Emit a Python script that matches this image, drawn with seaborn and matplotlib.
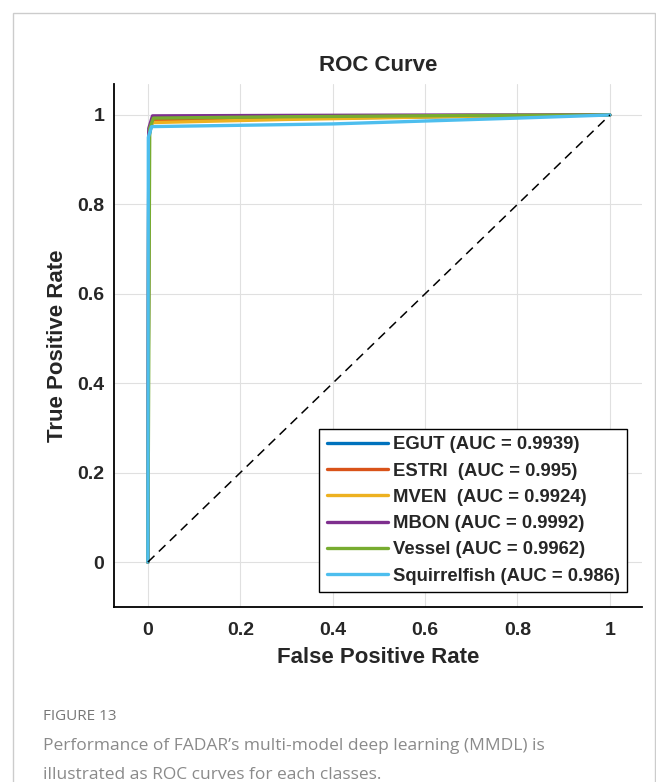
import matplotlib
matplotlib.use('Agg')
import matplotlib.pyplot as plt
from matplotlib.patches import Rectangle
import seaborn as sns

# ROC curves
classes = ['EGUT', 'ESTRI', 'MVEN', 'MBON', 'Vessel', 'Squirrelfish']
auc_labels = ['EGUT (AUC = 0.9939)', 'ESTRI  (AUC = 0.995)', 'MVEN  (AUC = 0.9924)',
              'MBON (AUC = 0.9992)', 'Vessel (AUC = 0.9962)', 'Squirrelfish (AUC = 0.986)']
colors = ['#0072BD', '#D95319', '#EDB120', '#7E2F8E', '#77AC30', '#4DBEEE']

fpr_egut = [0, 0.002, 0.01, 0.3, 0.7, 1]
tpr_egut = [0, 0.95, 0.988, 0.992, 0.997, 1]
fpr_estri = [0, 0.002, 0.01, 0.3, 0.7, 1]
tpr_estri = [0, 0.96, 0.988, 0.993, 0.998, 1]
fpr_mven = [0, 0.002, 0.01, 0.3, 0.7, 1]
tpr_mven = [0, 0.96, 0.983, 0.99, 0.997, 1]
fpr_mbon = [0, 0.002, 0.01, 0.3, 0.7, 1]
tpr_mbon = [0, 0.97, 0.998, 0.999, 1, 1]
fpr_vessel = [0, 0.004, 0.012, 0.3, 0.7, 1]
tpr_vessel = [0, 0.97, 0.993, 0.996, 0.999, 1]
fpr_squirrel = [0, 0.001, 0.008, 0.4, 0.8, 1]
tpr_squirrel = [0, 0.95, 0.974, 0.98, 0.993, 1]

fprs = [fpr_egut, fpr_estri, fpr_mven, fpr_mbon, fpr_vessel, fpr_squirrel]
tprs = [tpr_egut, tpr_estri, tpr_mven, tpr_mbon, tpr_vessel, tpr_squirrel]

ticks = [0, 0.2, 0.4, 0.6, 0.8, 1]
tick_labels = ['0', '0.2', '0.4', '0.6', '0.8', '1']

sns.set_style('whitegrid', {'grid.color': '#e0e0e0', 'axes.edgecolor': 'black'})
plt.rcParams['font.family'] = ['Liberation Sans', 'DejaVu Sans']
plt.rcParams['font.weight'] = 'bold'

fig = plt.figure(figsize=(6.56, 7.82), dpi=100)
ax = fig.add_axes([0.174, 0.224, 0.805, 0.669])

for fx, ty, c, lab in zip(fprs, tprs, colors, auc_labels):
    sns.lineplot(x=fx, y=ty, color=c, linewidth=2.4, label=lab, ax=ax,
                 sort=False, estimator=None)

ax.plot([0, 1], [0, 1], color='black', linestyle=(0, (6, 4)), linewidth=1.1)

ax.set_xlim(-0.073, 1.07)
ax.set_ylim(-0.1, 1.07)
ax.set_xticks(ticks)
ax.set_xticklabels(tick_labels)
ax.set_yticks(ticks)
ax.set_yticklabels(tick_labels)
ax.tick_params(axis='both', direction='in', length=4, width=1, labelsize=14)
ax.tick_params(axis='x', pad=11)
ax.tick_params(axis='y', pad=7)
for s in ['top', 'right']:
    ax.spines[s].set_visible(False)
for s in ['left', 'bottom']:
    ax.spines[s].set_linewidth(1.3)

ax.set_title('ROC Curve', fontsize=16, fontweight='bold', pad=9)
ax.set_xlabel('False Positive Rate', fontsize=16, fontweight='bold', labelpad=6)
ax.set_ylabel('True Positive Rate', fontsize=16, fontweight='bold', labelpad=7)

leg = ax.legend(loc='lower right', fontsize=13.3, frameon=True, fancybox=False,
                edgecolor='black', framealpha=1, handlelength=3.3,
                handletextpad=0.3, labelspacing=0.5, borderaxespad=0.8,
                borderpad=0.4)
leg.get_frame().set_linewidth(1.0)
for line in leg.get_lines():
    line.set_linewidth(2.4)

# outer frame and caption
fig.patches.append(Rectangle((13 / 656, -0.1), 642 / 656, 1.1 - 13 / 782,
                             transform=fig.transFigure, fill=False,
                             edgecolor='#cccccc', linewidth=1))
fig.text(43 / 656, 1 - 716 / 782, 'FIGURE 13', fontsize=11, color='#777777',
         family=['Open Sans', 'DejaVu Sans'], fontweight='normal', va='center')
fig.text(43 / 656, 1 - 746 / 782, "Performance of FADAR\u2019s multi-model deep learning (MMDL) is",
         fontsize=12.5, color='#8a8a8a', family=['Open Sans', 'DejaVu Sans'],
         fontweight='normal', va='center')
fig.text(43 / 656, 1 - 775 / 782, 'illustrated as ROC curves for each classes.',
         fontsize=12.5, color='#8a8a8a', family=['Open Sans', 'DejaVu Sans'],
         fontweight='normal', va='center')

fig.savefig('out.png', dpi=100)
